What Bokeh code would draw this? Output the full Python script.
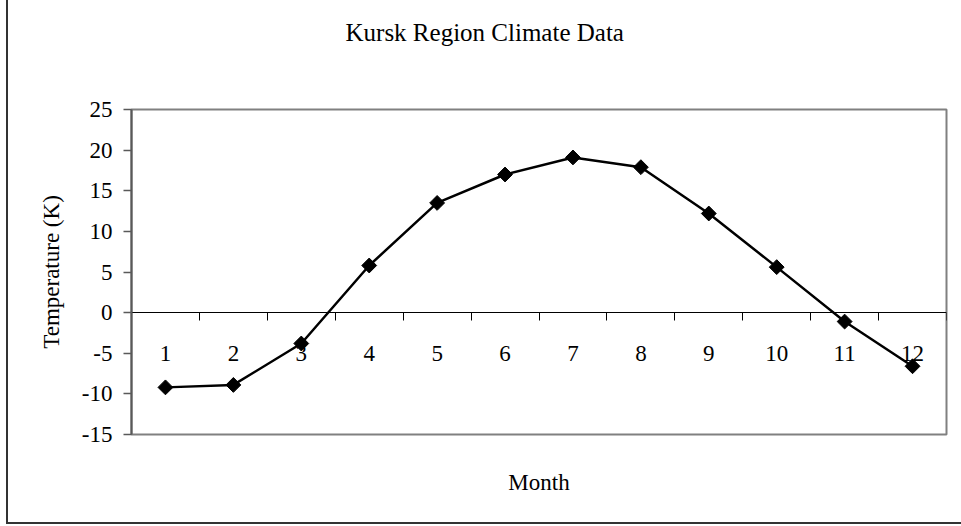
import numpy as np
from bokeh.plotting import figure
from bokeh.models import LinearAxis, FixedTicker, Range1d, Title
from bokeh.embed import file_html
from bokeh.resources import INLINE

# ---- data ----
months = [1, 2, 3, 4, 5, 6, 7, 8, 9, 10, 11, 12]
temps = [-9.2, -8.9, -3.8, 5.8, 13.5, 17.0, 19.1, 17.9, 12.2, 5.6, -1.1, -6.6]
y_ticks = [-15, -10, -5, 0, 5, 10, 15, 20, 25]
month_labels = [str(m) for m in months]
title_text = "Kursk Region Climate Data"
x_title = "Month"
y_title = "Temperature (K)"

FONT = "Liberation Serif"

p = figure(width=961, height=526, output_backend="svg", toolbar_location=None,
           x_range=Range1d(0.5, len(months) + 0.5), y_range=Range1d(min(y_ticks), max(y_ticks)),
           x_axis_location=None, y_axis_location="left",
           min_border_left=131, min_border_right=15, min_border_top=109, min_border_bottom=92)
p.grid.visible = False
p.outline_line_color = "#808080"
p.outline_line_width = 2
p.background_fill_color = "white"
p.border_fill_color = None
p.styles = {
    "background": ("linear-gradient(#333333, #333333) 6px 0px / 2px 524px no-repeat, "
                   "linear-gradient(#333333, #333333) 6px 522px / 955px 2px no-repeat, white"),
}

# real title (outermost), with a spacer between it and the frame
p.title.text = title_text
p.title.align = "left"
p.title.offset = 214
p.title.standoff = 0
p.title.text_font = FONT
p.title.text_font_size = "25px"
p.title.text_font_style = "normal"
p.title.text_color = "black"
p.add_layout(Title(text=" ", text_font_size="1px", standoff=61), "above")

# y axis
ya = p.yaxis[0]
ya.ticker = FixedTicker(ticks=y_ticks)
ya.major_label_overrides = {t: str(t) for t in y_ticks}
ya.axis_line_color = "#595959"
ya.axis_line_width = 2
ya.major_tick_line_color = "#595959"
ya.major_tick_line_width = 1.5
ya.major_tick_out = 8
ya.major_tick_in = 0
ya.minor_tick_line_color = None
ya.major_label_text_font = FONT
ya.major_label_text_font_size = "23px"
ya.major_label_text_color = "black"
ya.major_label_standoff = 11
ya.axis_label = y_title
ya.axis_label_text_font = FONT
ya.axis_label_text_font_size = "23px"
ya.axis_label_text_font_style = "normal"
ya.axis_label_text_color = "black"
ya.axis_label_standoff = 15

# x axis at y = 0: boundary ticks
bounds = [m - 0.5 for m in months] + [months[-1] + 0.5]
xa1 = LinearAxis(ticker=FixedTicker(ticks=bounds), fixed_location=0)
xa1.axis_line_color = "black"
xa1.axis_line_width = 1
xa1.major_tick_line_color = "black"
xa1.major_tick_line_width = 1
xa1.major_tick_out = 8
xa1.major_tick_in = 0
xa1.minor_tick_line_color = None
xa1.major_label_text_alpha = 0
xa1.major_label_text_font_size = "1px"
p.add_layout(xa1, "below")

# category labels
xa2 = LinearAxis(ticker=FixedTicker(ticks=months), fixed_location=0,
                 major_label_overrides={m: s for m, s in zip(months, month_labels)})
xa2.axis_line_color = None
xa2.major_tick_line_color = None
xa2.minor_tick_line_color = None
xa2.major_tick_out = 0
xa2.major_tick_in = 0
xa2.major_label_standoff = 33
xa2.major_label_text_font = FONT
xa2.major_label_text_font_size = "23px"
xa2.major_label_text_color = "black"
p.add_layout(xa2, "below")

# spacer below the frame, then the x axis title
p.add_layout(Title(text=" ", text_font_size="1px", standoff=30), "below")
p.add_layout(Title(text=x_title, align="center", standoff=0, text_font=FONT,
                   text_font_size="23px", text_font_style="normal",
                   text_color="black"), "below")

# series
p.line(months, temps, line_color="black", line_width=2.5)
p.scatter(months, temps, marker="square", angle=np.pi / 4, size=10.5,
          fill_color="black", line_color="black")

open("out.html", "w").write(file_html(p, INLINE))
